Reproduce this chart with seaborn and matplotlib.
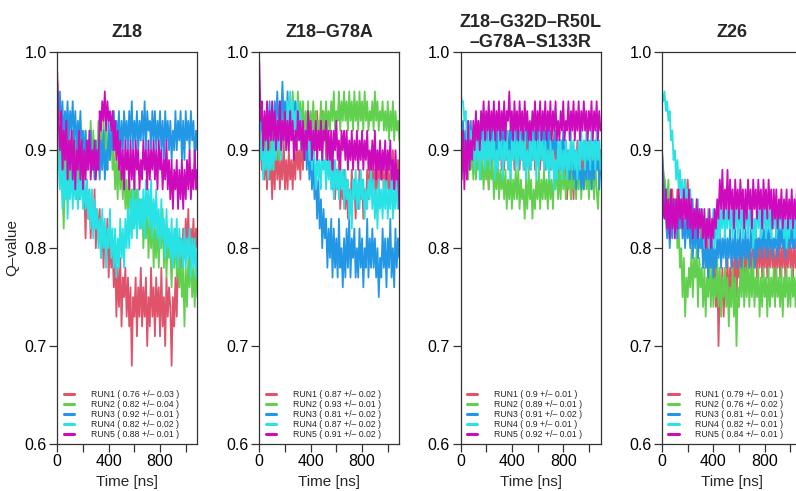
import numpy as np
import pandas as pd
import matplotlib
matplotlib.use("Agg")
import matplotlib.pyplot as plt
import seaborn as sns

# ---- data -------------------------------------------------------------
time_ns = np.arange(0, 1091, 10)  # sampling times (ns)

run_names = ["RUN1", "RUN2", "RUN3", "RUN4", "RUN5"]
run_colors = ["#DF536B", "#61D04F", "#2297E6", "#28E2E5", "#CD0BBC"]

panel_titles = ["Z18", "Z18–G78A", "Z18–G32D–R50L\n–G78A–S133R", "Z26"]

# mean and standard deviation of Q printed in each legend
z18_mean = [0.76, 0.82, 0.92, 0.82, 0.88]
z18_sd = [0.03, 0.04, 0.01, 0.02, 0.01]
g78a_mean = [0.87, 0.93, 0.81, 0.87, 0.91]
g78a_sd = [0.02, 0.01, 0.02, 0.02, 0.02]
quint_mean = [0.9, 0.89, 0.91, 0.9, 0.92]
quint_sd = [0.01, 0.01, 0.02, 0.01, 0.01]
z26_mean = [0.79, 0.76, 0.81, 0.82, 0.84]
z26_sd = [0.01, 0.02, 0.01, 0.01, 0.01]

# Q-value trajectories (one value every 10 ns), one list per run
z18_run1 = [.98, .93, .95, .90, .93, .88, .92, .89, .93, .87, .91,
            .88, .92, .86, .90, .87, .91, .85, .89, .86, .90, .86,
            .81, .87, .83, .86, .81, .85, .82, .86, .80, .84, .81,
            .84, .79, .83, .78, .82, .79, .83, .77, .81, .78, .80,
            .76, .80, .73, .78, .74, .79, .72, .77, .75, .78, .73,
            .77, .72, .76, .68, .75, .73, .77, .71, .76, .73, .78,
            .72, .76, .73, .77, .70, .75, .72, .78, .73, .76, .71,
            .77, .73, .76, .71, .78, .72, .75, .70, .77, .73, .76,
            .74, .68, .75, .72, .77, .73, .79, .76, .81, .78, .82,
            .79, .83, .80, .84, .78, .82, .80, .83, .79, .82, .80]
z18_run2 = [.95, .91, .88, .92, .86, .82, .89, .85, .91, .86, .90,
            .86, .90, .87, .91, .85, .89, .87, .92, .88, .91, .87,
            .92, .88, .91, .89, .93, .88, .92, .89, .91, .88, .93,
            .89, .92, .88, .93, .90, .92, .88, .91, .89, .92, .88,
            .90, .86, .89, .85, .90, .86, .88, .85, .89, .84, .87,
            .83, .87, .84, .86, .82, .87, .84, .86, .83, .85, .82,
            .85, .80, .84, .81, .85, .79, .83, .80, .84, .78, .82,
            .79, .83, .78, .82, .80, .84, .78, .82, .77, .81, .79,
            .80, .76, .81, .78, .82, .77, .80, .76, .79, .75, .78,
            .72, .78, .74, .79, .76, .80, .75, .78, .74, .79, .75]
z18_run3 = [.96, .94, .96, .92, .95, .91, .94, .92, .95, .91, .94,
            .92, .95, .91, .94, .90, .93, .91, .94, .90, .92, .89,
            .92, .88, .91, .89, .92, .88, .90, .87, .91, .88, .90,
            .87, .91, .88, .92, .87, .90, .88, .93, .89, .92, .90,
            .94, .90, .93, .91, .94, .89, .93, .90, .94, .91, .93,
            .90, .94, .91, .95, .90, .93, .91, .94, .90, .93, .91,
            .94, .91, .95, .90, .94, .92, .93, .90, .94, .91, .94,
            .90, .93, .91, .94, .90, .93, .89, .94, .91, .93, .90,
            .93, .89, .92, .90, .94, .90, .93, .91, .94, .89, .93,
            .89, .94, .91, .93, .90, .94, .91, .93, .89, .92, .90]
z18_run4 = [.92, .89, .86, .90, .84, .88, .85, .89, .83, .87, .85,
            .89, .84, .88, .85, .89, .84, .87, .85, .88, .84, .87,
            .84, .87, .83, .86, .82, .86, .81, .85, .82, .84, .80,
            .83, .79, .84, .80, .83, .78, .82, .80, .84, .79, .82,
            .78, .82, .77, .81, .78, .83, .79, .82, .78, .83, .80,
            .84, .80, .85, .81, .86, .82, .85, .81, .86, .82, .85,
            .82, .86, .81, .87, .83, .86, .82, .87, .81, .85, .82,
            .86, .81, .84, .80, .85, .81, .83, .79, .84, .80, .82,
            .79, .83, .78, .82, .79, .83, .78, .82, .79, .81, .78,
            .82, .78, .81, .79, .82, .77, .81, .78, .81, .77, .80]
z18_run5 = [.97, .93, .90, .94, .88, .92, .89, .93, .87, .91, .88,
            .92, .87, .91, .86, .90, .88, .92, .87, .91, .86, .90,
            .87, .91, .88, .92, .87, .90, .88, .91, .87, .90, .88,
            .94, .92, .95, .93, .96, .92, .95, .93, .94, .92, .94,
            .90, .93, .89, .92, .88, .91, .87, .90, .86, .91, .88,
            .90, .86, .91, .87, .90, .86, .91, .88, .90, .86, .89,
            .87, .91, .88, .90, .86, .91, .87, .90, .88, .91, .87,
            .90, .86, .91, .88, .90, .86, .89, .87, .91, .86, .89,
            .85, .89, .84, .88, .86, .89, .84, .88, .85, .89, .84,
            .88, .85, .89, .86, .90, .85, .88, .86, .90, .86, .88]

g78a_run1 = [.96, .91, .88, .92, .87, .90, .86, .91, .87, .89, .85,
             .90, .86, .91, .87, .90, .86, .89, .87, .91, .86, .89,
             .86, .90, .87, .89, .86, .90, .87, .91, .88, .90, .87,
             .92, .88, .93, .89, .92, .90, .93, .89, .92, .90, .93,
             .90, .94, .91, .93, .90, .94, .91, .93, .89, .92, .90,
             .88, .91, .86, .89, .85, .88, .86, .89, .84, .87, .85,
             .88, .84, .87, .83, .86, .84, .88, .85, .87, .83, .86,
             .84, .88, .85, .87, .83, .86, .84, .88, .85, .89, .86,
             .89, .86, .88, .85, .89, .86, .90, .87, .89, .85, .88,
             .86, .89, .85, .88, .86, .90, .86, .88, .85, .89, .86]
g78a_run2 = [.95, .92, .94, .90, .93, .89, .92, .88, .91, .89, .92,
             .88, .92, .90, .93, .89, .92, .90, .94, .91, .93, .90,
             .94, .91, .95, .92, .96, .93, .95, .92, .96, .93, .95,
             .92, .95, .91, .94, .92, .95, .91, .94, .92, .95, .92,
             .94, .91, .93, .92, .95, .91, .94, .92, .95, .92, .94,
             .92, .95, .93, .96, .92, .94, .93, .96, .92, .95, .93,
             .96, .93, .95, .92, .96, .93, .95, .92, .96, .93, .95,
             .92, .96, .93, .95, .92, .96, .93, .95, .92, .94, .93,
             .95, .92, .96, .93, .95, .92, .94, .93, .95, .92, .94,
             .92, .95, .91, .94, .92, .95, .91, .94, .92, .93, .91]
g78a_run3 = [.95, .92, .94, .90, .93, .91, .94, .92, .95, .91, .94,
             .92, .95, .93, .96, .92, .95, .93, .97, .93, .95, .92,
             .96, .92, .95, .91, .94, .92, .95, .91, .94, .92, .93,
             .90, .93, .89, .92, .88, .91, .87, .90, .86, .89, .85,
             .88, .83, .87, .82, .85, .80, .84, .81, .83, .78, .82,
             .79, .83, .77, .82, .78, .81, .77, .83, .78, .80, .76,
             .81, .77, .82, .78, .83, .77, .81, .79, .82, .77, .80,
             .77, .82, .78, .81, .76, .80, .78, .83, .77, .81, .78,
             .82, .78, .81, .77, .80, .75, .79, .77, .82, .78, .81,
             .76, .81, .78, .83, .77, .80, .76, .82, .78, .81, .79]
g78a_run4 = [.93, .89, .91, .87, .90, .88, .91, .87, .90, .88, .91,
             .88, .92, .89, .93, .90, .92, .89, .93, .91, .94, .92,
             .95, .92, .96, .93, .95, .92, .94, .92, .95, .91, .94,
             .90, .93, .89, .92, .90, .93, .89, .91, .88, .92, .89,
             .86, .90, .87, .89, .86, .90, .88, .89, .86, .90, .87,
             .89, .86, .88, .85, .89, .86, .88, .85, .89, .86, .88,
             .84, .88, .85, .87, .83, .86, .82, .87, .85, .88, .84,
             .87, .84, .88, .85, .87, .83, .86, .84, .87, .85, .88,
             .84, .87, .83, .86, .82, .87, .84, .86, .83, .87, .84,
             .87, .83, .86, .84, .88, .83, .86, .84, .87, .84, .86]
g78a_run5 = [.99, .93, .95, .90, .94, .91, .95, .90, .94, .91, .95,
             .91, .94, .90, .93, .91, .95, .90, .93, .91, .94, .90,
             .93, .90, .94, .91, .93, .89, .92, .90, .94, .91, .93,
             .90, .93, .89, .92, .90, .94, .91, .93, .89, .92, .90,
             .93, .89, .92, .90, .93, .89, .92, .91, .93, .89, .92,
             .89, .92, .88, .92, .90, .93, .89, .91, .88, .92, .90,
             .92, .89, .92, .88, .91, .89, .92, .88, .91, .89, .92,
             .88, .91, .89, .92, .88, .91, .89, .92, .88, .90, .88,
             .91, .88, .92, .87, .90, .88, .91, .87, .90, .88, .91,
             .87, .90, .88, .91, .87, .89, .86, .90, .87, .88, .84]

quint_run1 = [.93, .90, .92, .88, .91, .89, .92, .88, .91, .89, .92,
              .88, .91, .89, .92, .88, .91, .89, .92, .88, .91, .89,
              .86, .90, .88, .91, .89, .92, .88, .91, .89, .92, .88,
              .91, .88, .92, .89, .91, .88, .92, .89, .91, .88, .91,
              .89, .92, .88, .91, .89, .92, .88, .91, .89, .92, .88,
              .91, .89, .92, .88, .91, .89, .92, .88, .91, .89, .92,
              .88, .91, .89, .92, .88, .91, .89, .92, .88, .90, .87,
              .90, .88, .91, .87, .90, .88, .85, .89, .88, .85, .89,
              .85, .89, .88, .91, .88, .90, .87, .90, .88, .91, .88,
              .90, .88, .91, .87, .90, .88, .91, .88, .90, .87, .90]
quint_run2 = [.94, .92, .90, .91, .88, .90, .87, .91, .88, .90, .87,
              .90, .87, .89, .88, .90, .87, .89, .86, .89, .87, .90,
              .86, .89, .87, .89, .85, .88, .86, .89, .85, .88, .86,
              .88, .85, .88, .84, .87, .85, .88, .84, .87, .85, .88,
              .85, .88, .84, .87, .85, .86, .83, .87, .84, .88, .85,
              .87, .83, .86, .84, .87, .85, .88, .84, .87, .85, .88,
              .85, .87, .84, .88, .85, .87, .84, .88, .86, .89, .85,
              .88, .85, .89, .86, .88, .85, .88, .86, .89, .85, .88,
              .86, .89, .85, .88, .86, .89, .85, .88, .86, .89, .86,
              .88, .85, .89, .86, .88, .85, .89, .86, .84, .87, .88]
quint_run3 = [.94, .91, .93, .90, .92, .90, .93, .91, .93, .90, .92,
              .90, .93, .91, .93, .89, .92, .90, .93, .91, .92, .90,
              .93, .90, .92, .91, .93, .89, .92, .90, .93, .91, .92,
              .90, .93, .91, .92, .89, .92, .90, .93, .91, .93, .90,
              .92, .89, .92, .90, .93, .90, .92, .91, .93, .90, .92,
              .91, .93, .90, .92, .89, .93, .90, .92, .91, .93, .90,
              .92, .89, .93, .90, .92, .89, .91, .90, .92, .89, .91,
              .88, .91, .89, .92, .88, .91, .89, .90, .87, .91, .89,
              .87, .90, .86, .89, .87, .90, .86, .88, .86, .90, .87,
              .91, .87, .90, .86, .89, .87, .91, .88, .90, .86, .89]
quint_run4 = [.96, .95, .95, .93, .94, .91, .93, .90, .92, .89, .91,
              .88, .92, .89, .91, .87, .91, .89, .92, .88, .91, .89,
              .92, .88, .91, .89, .92, .87, .90, .88, .92, .89, .91,
              .87, .91, .89, .92, .88, .90, .87, .91, .89, .92, .88,
              .91, .88, .92, .89, .91, .88, .92, .87, .90, .88, .91,
              .88, .92, .89, .91, .87, .91, .88, .92, .89, .91, .88,
              .91, .88, .90, .87, .91, .88, .90, .86, .89, .87, .91,
              .88, .91, .87, .90, .88, .91, .87, .90, .88, .92, .88,
              .91, .88, .90, .87, .91, .88, .92, .89, .91, .88, .92,
              .89, .91, .88, .92, .89, .91, .88, .92, .89, .91, .88]
quint_run5 = [.90, .87, .92, .86, .91, .87, .93, .88, .91, .89, .93,
              .90, .94, .91, .93, .90, .94, .92, .95, .91, .94, .92,
              .95, .91, .94, .92, .95, .91, .94, .92, .95, .91, .94,
              .92, .95, .91, .94, .93, .96, .92, .94, .91, .95, .92,
              .94, .91, .95, .92, .94, .91, .95, .92, .94, .91, .93,
              .91, .94, .92, .95, .91, .94, .92, .95, .91, .94, .92,
              .95, .91, .94, .92, .95, .91, .94, .92, .95, .91, .93,
              .91, .94, .92, .95, .91, .93, .92, .95, .91, .94, .92,
              .95, .91, .94, .92, .95, .91, .94, .92, .95, .92, .94,
              .91, .94, .92, .95, .91, .94, .92, .95, .91, .94, .92]

z26_run1 = [.88, .84, .87, .83, .86, .84, .85, .82, .86, .83, .85,
            .83, .86, .82, .85, .83, .86, .84, .87, .83, .87, .84,
            .82, .85, .80, .84, .81, .83, .79, .82, .80, .83, .79,
            .81, .78, .82, .77, .80, .78, .81, .76, .79, .74, .78,
            .70, .76, .74, .78, .73, .77, .75, .79, .74, .78, .75,
            .79, .76, .80, .75, .79, .77, .80, .76, .79, .77, .80,
            .77, .81, .78, .80, .77, .81, .78, .80, .77, .81, .78,
            .81, .77, .80, .78, .81, .77, .80, .78, .81, .78, .80,
            .77, .80, .78, .81, .77, .80, .78, .81, .77, .80, .78,
            .81, .78, .80, .77, .81, .78, .80, .77, .81, .78, .80]
z26_run2 = [.90, .88, .87, .86, .85, .87, .83, .86, .84, .85, .82,
            .84, .80, .82, .78, .80, .75, .79, .73, .77, .75, .78,
            .76, .80, .75, .79, .77, .80, .74, .79, .76, .78, .74,
            .78, .73, .77, .75, .79, .74, .78, .74, .77, .75, .79,
            .74, .78, .73, .77, .75, .78, .74, .77, .72, .76, .74,
            .78, .73, .77, .70, .76, .74, .78, .75, .79, .74, .78,
            .75, .79, .74, .78, .75, .79, .74, .77, .75, .78, .73,
            .77, .74, .78, .75, .77, .73, .78, .74, .77, .75, .78,
            .74, .78, .75, .77, .74, .78, .73, .77, .75, .78, .74,
            .77, .74, .78, .75, .77, .74, .78, .75, .77, .74, .76]
z26_run3 = [.90, .87, .85, .83, .81, .84, .80, .83, .81, .85, .82,
            .84, .81, .85, .82, .84, .81, .83, .80, .84, .81, .83,
            .80, .83, .79, .82, .80, .83, .79, .82, .80, .81, .78,
            .81, .78, .80, .77, .81, .78, .82, .77, .80, .78, .81,
            .79, .82, .78, .81, .79, .82, .78, .81, .79, .82, .78,
            .81, .79, .82, .78, .81, .79, .82, .78, .81, .79, .82,
            .79, .81, .78, .82, .80, .81, .78, .82, .79, .81, .80,
            .82, .79, .82, .80, .83, .79, .82, .80, .82, .79, .81,
            .80, .82, .79, .83, .80, .82, .80, .83, .79, .82, .80,
            .83, .80, .82, .80, .83, .80, .82, .80, .83, .80, .82]
z26_run4 = [.96, .95, .96, .94, .95, .93, .94, .91, .92, .89, .90,
            .87, .89, .86, .88, .85, .87, .84, .87, .85, .86, .84,
            .86, .83, .85, .82, .84, .83, .85, .81, .84, .82, .83,
            .80, .83, .81, .84, .80, .82, .81, .84, .80, .83, .81,
            .84, .81, .84, .82, .85, .81, .84, .82, .85, .82, .84,
            .81, .85, .82, .84, .81, .85, .82, .84, .81, .85, .82,
            .85, .81, .84, .82, .85, .80, .83, .81, .85, .82, .84,
            .81, .84, .82, .85, .81, .84, .82, .84, .81, .84, .82,
            .85, .81, .84, .82, .85, .82, .84, .81, .83, .80, .83,
            .81, .84, .82, .84, .81, .83, .80, .83, .81, .84, .81]
z26_run5 = [.90, .84, .83, .86, .82, .85, .81, .86, .82, .85, .81,
            .85, .82, .86, .83, .85, .82, .86, .83, .85, .82, .86,
            .82, .85, .81, .84, .82, .85, .81, .84, .82, .84, .81,
            .84, .80, .83, .81, .84, .80, .83, .81, .84, .82, .85,
            .83, .87, .84, .88, .83, .86, .84, .88, .83, .87, .84,
            .86, .82, .87, .84, .86, .83, .87, .84, .86, .82, .86,
            .83, .87, .84, .86, .82, .87, .84, .86, .83, .87, .84,
            .86, .82, .87, .84, .86, .83, .87, .84, .86, .82, .86,
            .83, .86, .82, .85, .83, .86, .82, .85, .83, .86, .82,
            .85, .83, .86, .82, .85, .83, .86, .82, .85, .83, .85]

panels = [
    ([z18_run1, z18_run2, z18_run3, z18_run4, z18_run5], z18_mean, z18_sd),
    ([g78a_run1, g78a_run2, g78a_run3, g78a_run4, g78a_run5], g78a_mean, g78a_sd),
    ([quint_run1, quint_run2, quint_run3, quint_run4, quint_run5], quint_mean, quint_sd),
    ([z26_run1, z26_run2, z26_run3, z26_run4, z26_run5], z26_mean, z26_sd),
]
for series, _, _ in panels:
    for q in series:
        assert len(q) == len(time_ns), len(q)

x_ticks = [0, 200, 400, 600, 800, 1000]
x_tick_labels = ["0", "", "400", "", "800", ""]
y_ticks = [0.6, 0.7, 0.8, 0.9, 1.0]
y_tick_labels = ["0.6", "0.7", "0.8", "0.9", "1.0"]

# ---- figure -----------------------------------------------------------
sns.set_theme(style="white")
plt.rcParams["font.family"] = ["Liberation Sans", "DejaVu Sans"]

W, H = 796, 491
fig = plt.figure(figsize=(W / 100, H / 100), dpi=100)

panel_left_px = [57.3, 259.3, 460.5, 662.0]
panel_w_px = 140.0
top_px, bottom_px = 52.3, 444.0
axis_color = "#333333"

for i, (series, mvals, svals) in enumerate(panels):
    ax = fig.add_axes([panel_left_px[i] / W, (H - bottom_px) / H,
                       panel_w_px / W, (bottom_px - top_px) / H])
    labels = [f"{r} ( {m:g} +/– {s:.2f} )" for r, m, s in zip(run_names, mvals, svals)]
    frames = [pd.DataFrame({"time": time_ns, "Q": q, "run": lab})
              for q, lab in zip(series, labels)]
    df = pd.concat(frames, ignore_index=True)
    sns.lineplot(data=df, x="time", y="Q", hue="run", hue_order=labels,
                 palette=dict(zip(labels, run_colors)), estimator=None,
                 sort=False, linewidth=1.3, ax=ax, legend=True)

    ax.set_xlim(0, 1090)
    ax.set_ylim(0.6, 1.0)
    ax.set_xticks(x_ticks)
    ax.set_xticklabels(x_tick_labels)
    ax.set_yticks(y_ticks)
    ax.set_yticklabels(y_tick_labels)
    ax.set_xlabel("")
    ax.set_ylabel("")
    ax.tick_params(axis="both", direction="out", length=6, width=0.9,
                   color=axis_color, labelsize=11.5, pad=1.5,
                   labelcolor="black", left=True, bottom=True)
    for sp in ax.spines.values():
        sp.set_color(axis_color)
        sp.set_linewidth(0.9)

    handles, labs = ax.get_legend_handles_labels()
    leg = ax.legend(handles, labs, loc="lower left",
                    bbox_to_anchor=(0.045, 0.012), frameon=False,
                    fontsize=6.3, handlelength=1.2, handletextpad=1.9,
                    labelspacing=0.12, borderpad=0.0, borderaxespad=0.0)
    for ln in leg.get_lines():
        ln.set_linewidth(2.2)

    ax.text(0.5, (bottom_px - 32.5) / (bottom_px - top_px), panel_titles[i],
            transform=ax.transAxes, ha="center", va="center",
            fontsize=13, fontweight="bold", linespacing=1.3)
    ax.text(0.5, (bottom_px - 482) / (bottom_px - top_px), "Time [ns]",
            transform=ax.transAxes, ha="center", va="center", fontsize=11)

fig.text(12.7 / W, 1 - 248 / H, "Q–value", rotation=90,
         ha="center", va="center", fontsize=11)

fig.savefig("out.png", dpi=100)
